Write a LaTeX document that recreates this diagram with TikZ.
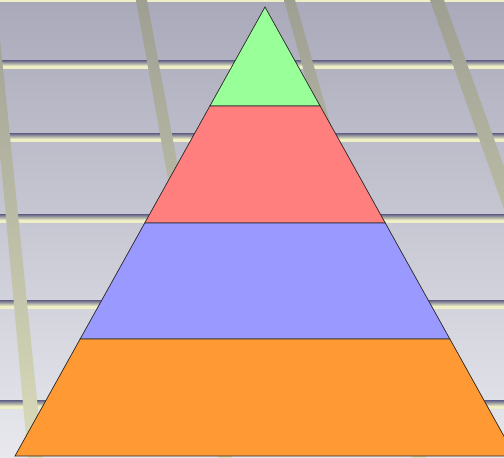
\documentclass[tikz,border=0pt]{standalone}
\usetikzlibrary{calc}
\definecolor{bgTop}{HTML}{A9A9BA}
\definecolor{bgBot}{HTML}{E8E8EE}
\definecolor{railDark}{HTML}{5C5C84}
\definecolor{railLight}{HTML}{EFEFC6}
\definecolor{poleTop}{HTML}{9E9F93}
\definecolor{poleBot}{HTML}{DADCBA}
\definecolor{tierGreen}{HTML}{99FF99}
\definecolor{tierRed}{HTML}{FF7F7F}
\definecolor{tierBlue}{HTML}{9999FF}
\definecolor{tierOrange}{HTML}{FF9933}
\tikzset{
  rail/.style={
    top color=railDark,
    bottom color=railLight
  },
  pole/.style={
    top color=poleTop,
    bottom color=poleBot
  },
  tier/.style={
    draw=black!85,
    line width=0.7pt,
    line join=miter
  }
}

\begin{document}
\begin{tikzpicture}[x=1pt,y=-1pt]
        \useasboundingbox (0,0) rectangle (504,458);
        \clip (0,0) rectangle (504,458);
        % wall
        \shade[top color=bgTop, bottom color=bgBot] (0,0) rectangle (504,458);
        \foreach \y in {-7,60,133,214,300,400}{
          \shade[rail] (0,\y) rectangle (504,\y+6);
          \fill[railLight] (0,\y+6) rectangle (504,\y+9);
        }
        % slanted poles
        \shade[pole] (-14,0) -- (-4,0) -- (43,458) -- (28,458) -- cycle;
        \shade[pole] (136,0) -- (147,0) -- (232,458) -- (218,458) -- cycle;
        \shade[pole] (284,0) -- (295,0) -- (426,458) -- (412,458) -- cycle;
        \shade[pole] (430,0) -- (444,0) -- (609,458) -- (592,458) -- cycle;
        % pyramid
        \coordinate (apex) at (265,7);
        \coordinate (baseL) at (15,456);
        \coordinate (baseR) at (515,456);
        \foreach \t [count=\i] in {0.2205,0.481,0.7394}{
          \coordinate (l\i) at ($(apex)!\t!(baseL)$);
          \coordinate (r\i) at ($(apex)!\t!(baseR)$);
        }
        \draw[tier,fill=tierGreen] (apex) -- (r1) -- (l1) -- cycle;
        \draw[tier,fill=tierRed] (l1) -- (r1) -- (r2) -- (l2) -- cycle;
        \draw[tier,fill=tierBlue] (l2) -- (r2) -- (r3) -- (l3) -- cycle;
        \draw[tier,fill=tierOrange] (l3) -- (r3) -- (baseR) -- (baseL) -- cycle;
    \end{tikzpicture}
\end{document}
